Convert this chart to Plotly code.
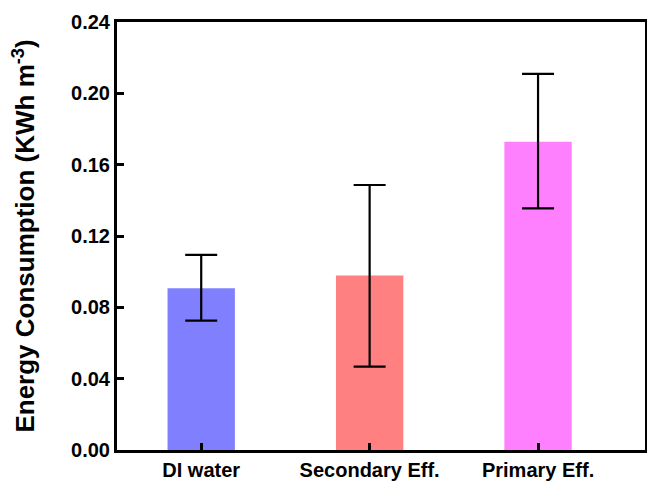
import plotly.graph_objects as go

categories = ["DI water", "Secondary Eff.", "Primary Eff."]
values = [0.0907, 0.0978, 0.1729]
err_plus = [0.0187, 0.0508, 0.0380]
err_minus = [0.0182, 0.0511, 0.0374]
colors = ["#8080FF", "#FF8080", "#FF80FF"]
y_ticks = [0.00, 0.04, 0.08, 0.12, 0.16, 0.20, 0.24]

FAM = "Liberation Sans, Arial, sans-serif"

fig = go.Figure()
fig.add_trace(go.Bar(
    x=categories, y=values, width=0.4,
    marker=dict(color=colors, line=dict(width=0)),
    error_y=dict(type="data", array=err_plus, arrayminus=err_minus,
                 color="black", thickness=2.2, width=16),
))

fig.update_layout(
    width=647, height=481,
    margin=dict(l=117, r=2, t=22, b=31),
    paper_bgcolor="white", plot_bgcolor="white",
    showlegend=False,
    font=dict(family=FAM, color="black"),
    xaxis=dict(
        range=[-0.5, 2.635], showline=True, linecolor="black", linewidth=3,
        mirror=True, ticks="inside", ticklen=7, tickwidth=2.5, tickcolor="black",
        tickfont=dict(size=20, family=FAM, color="black", weight="bold"),
        showgrid=False, zeroline=False, automargin=False,
    ),
    yaxis=dict(
        range=[0, 0.24], showline=True, linecolor="black", linewidth=3,
        mirror=True, ticks="inside", ticklen=7, tickwidth=2.5, tickcolor="black",
        tickvals=y_ticks, ticktext=[f"{v:.2f}" for v in y_ticks],
        tickfont=dict(size=20, family=FAM, color="black", weight="bold"),
        showgrid=False, zeroline=False, automargin=False,
        title=dict(text="Energy Consumption (KWh m<sup>-3</sup>)", standoff=29,
                   font=dict(size=26, family=FAM, color="black", weight="bold")),
    ),
)
fig.write_html(
    "out.html",
    config={"displayModeBar": False, "responsive": False},
    post_script="document.body.style.margin='0px';document.body.style.overflow='hidden';document.documentElement.style.overflow='hidden';",
)
